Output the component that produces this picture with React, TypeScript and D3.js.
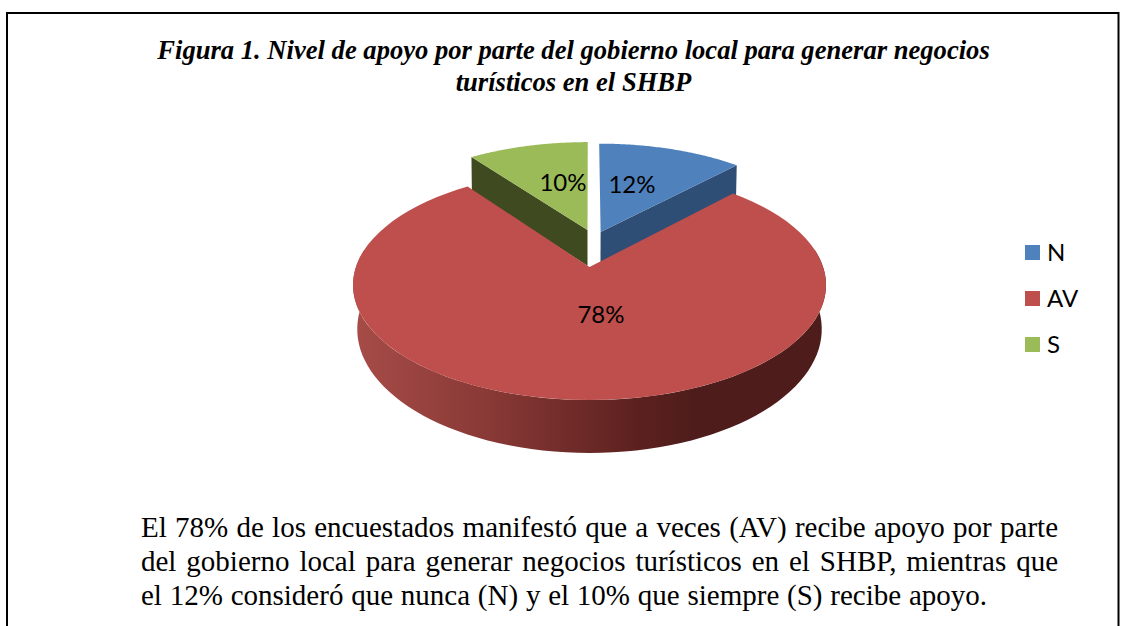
import React from "react";
import * as d3 from "d3";

const titleLines = [
  "Figura 1. Nivel de apoyo por parte del gobierno local para generar negocios",
  "turísticos en el SHBP",
];
const paragraphLines = [
  "El 78% de los encuestados manifestó que a veces (AV) recibe apoyo por parte",
  "del gobierno local para generar negocios turísticos en el SHBP, mientras que",
  "el 12% consideró que nunca (N) y el 10% que siempre (S) recibe apoyo.",
];
const paragraphWidths = [917, 917, 846];
const categories = ["N", "AV", "S"];
const values = [12, 78, 10];
const colors = ["#4f81bd", "#be4f4c", "#9bbb59"];
const wallColors = ["#2f4e75", "#7a3230", "#3f4a20"];
const explodeU = [0.05, 0, -0.009];
const explodeV = [-0.328, 0, -0.348];
const baseDrop = [1, 0, 5];
const labelX = [632, 601, 563];
const labelY = [185, 315, 183];

const CX = 589.5;
const CY = 267;
const K = 0.1565;
const project = (u: number, v: number) => {
  const d = 1 - K * v;
  return [CX + (233.6 * u) / d, CY + (112.2 * v) / d];
};
const projectBase = (u: number, v: number) => {
  const x = (233.6 * u) / (1 - K * v);
  return [CX + x * (0.985 - 0.01 * v), 300.5 + (122 * v) / (1 - 0.2 * v)];
};
const projectRim = (u: number, v: number) => {
  const d = 1 - K * v;
  return [CX + (233.6 * 0.982 * u) / d, 309.7 + (120.8 * v) / d];
};
const line = d3.line();

const PARA_FONT = "'Liberation Serif'";
const PARA_SIZE = 29;
const measure = (t: string) => {
  const c = document.createElement("canvas").getContext("2d")!;
  c.font = `${PARA_SIZE}px ${PARA_FONT}`;
  return c.measureText(t).width;
};

export default function App() {
  const arcs = d3.pie<number>().sort(null)(values);

  const ring = (a0: number, a1: number, i: number, fn: typeof project) => {
    const angles = d3.range(0, 81).map((t) => a0 + ((a1 - a0) * t) / 80);
    return angles.map((a) =>
      fn(explodeU[i] + Math.sin(a), explodeV[i] - Math.cos(a))
    ) as [number, number][];
  };
  const top = (i: number) => {
    const a = arcs[i];
    const apex = project(explodeU[i], explodeV[i]) as [number, number];
    return line([apex, ...ring(a.startAngle, a.endAngle, i, project)]) + "Z";
  };
  const cutWall = (i: number, angle: number) => {
    const p = (fn: typeof project, uo: number, vo: number, drop = 0) => {
      const q = fn(explodeU[i] + uo, explodeV[i] + vo);
      return [q[0], q[1] + drop] as [number, number];
    };
    const u = Math.sin(angle);
    const v = -Math.cos(angle);
    return (
      line([
        p(project, 0, 0),
        p(project, u, v),
        p(projectBase, u, v, baseDrop[i]),
        p(projectBase, 0, 0, baseDrop[i]),
      ]) + "Z"
    );
  };
  // Red rim: only the part of the circle that faces the viewer.
  const rimStart = Math.PI / 2 - 0.16;
  const rimEnd = (Math.PI * 3) / 2 + 0.16;
  const rimTop = ring(rimStart, rimEnd, 1, project);
  const rimBottom = ring(rimStart, rimEnd, 1, projectRim).reverse();

  return (
    <svg
      width={1128}
      height={626}
      style={{ position: "absolute", left: 0, top: 0, display: "block", background: "#fff" }}
    >
      <defs>
        <linearGradient id="rim" gradientUnits="userSpaceOnUse" x1={353} x2={826} y1={0} y2={0}>
          <stop offset="0" stopColor="#a74c48" />
          <stop offset="0.3" stopColor="#873835" />
          <stop offset="0.6" stopColor="#5c211f" />
          <stop offset="0.72" stopColor="#4e1d1b" />
          <stop offset="1" stopColor="#4e1d1b" />
        </linearGradient>
      </defs>
      <path d="M7 627V13H1118.5V627" fill="none" stroke="#000" strokeWidth={2} />

      <g fontFamily="'Liberation Serif'" fontWeight="bold" fontStyle="italic" fontSize={26.6} textAnchor="middle" fill="#000">
        {titleLines.map((t, i) => (
          <text key={t} x={573.5} y={59 + i * 32}>{t}</text>
        ))}
      </g>

      <path d={cutWall(2, arcs[2].startAngle)} fill={wallColors[2]} />
      <path d={cutWall(0, arcs[0].endAngle)} fill={wallColors[0]} />
      <path d={top(2)} fill={colors[2]} />
      <path d={top(0)} fill={colors[0]} />
      <path d={line([...rimTop, ...rimBottom]) + "Z"} fill="url(#rim)" />
      <path d={top(1)} fill={colors[1]} />

      <g fontFamily="Lato" fontSize={24} textAnchor="middle" fill="#000">
        {values.map((v, i) => (
          <text key={categories[i]} x={labelX[i]} y={labelY[i] + 8}>{v}%</text>
        ))}
      </g>

      {categories.map((c, i) => (
        <g key={c}>
          <rect x={1025} y={245 + i * 46} width={15} height={15} fill={colors[i]} />
          <text x={1047} y={261 + i * 46} fontFamily="Lato" fontSize={24} fill="#000">{c}</text>
        </g>
      ))}

      <g fontFamily={PARA_FONT} fontSize={PARA_SIZE} fill="#000">
        {paragraphLines.map((t, i) => {
          const spaces = t.split(" ").length - 1;
          const wordSpacing = (paragraphWidths[i] - measure(t)) / spaces;
          return (
            <text key={t} x={141} y={537 + i * 34} wordSpacing={wordSpacing}>
              {t}
            </text>
          );
        })}
      </g>
    </svg>
  );
}
